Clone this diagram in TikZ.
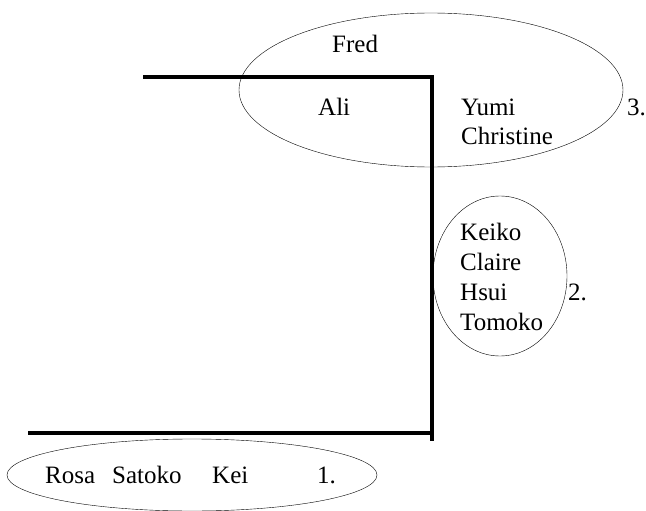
\documentclass[tikz,border=0pt]{standalone}
\usepackage{fontspec}
\setmainfont{Liberation Serif}
\begin{document}
\begin{tikzpicture}[x=1pt, y=-1pt,
	person/.style={anchor=base west, inner sep=0pt, font=\fontsize{25}{30}\selectfont}]
\useasboundingbox (0, 0) rectangle (646, 511);
\draw [line width=4pt] (143, 77) -- (432, 77) -- (432, 441);
\draw [line width=4pt] (28, 433) -- (434, 433);
\draw (431, 90) ellipse (192 and 77);
\draw (500, 276) ellipse (67 and 80);
\draw (192, 475) ellipse (185 and 36);
\foreach \id/\x/\y/\who in {
	fred/332/53/Fred,
	ali/318/116/Ali,
	yumi/461/116/Yumi,
	christine/461/145/Christine,
	three/627/116/3.,
	keiko/460/240/Keiko,
	claire/460/270/Claire,
	hsui/460/300/Hsui,
	tomoko/460/330/Tomoko,
	two/568/300/2.,
	rosa/45/483/Rosa,
	satoko/112/483/Satoko,
	kei/212/483/Kei,
	one/317/483/1.
	} {
	\node [person] (\id) at (\x, \y) {\who};
}
\end{tikzpicture}
\end{document}
